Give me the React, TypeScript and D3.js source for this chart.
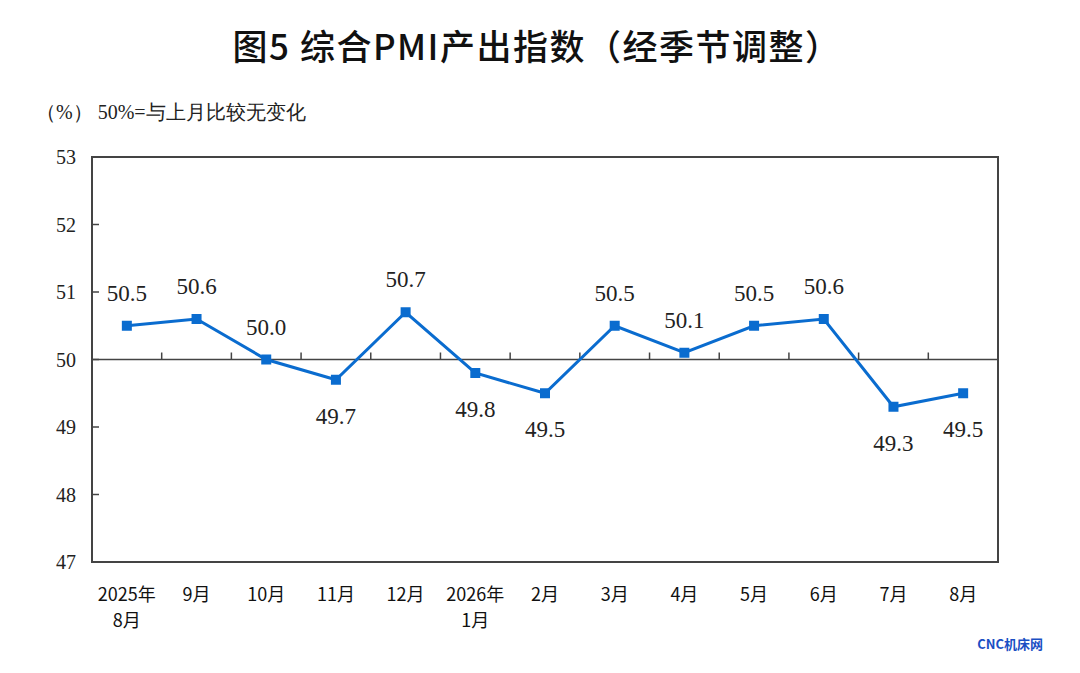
import * as d3 from "d3";

const categories = [["2025年", "8月"], ["9月"], ["10月"], ["11月"], ["12月"], ["2026年", "1月"], ["2月"], ["3月"], ["4月"], ["5月"], ["6月"], ["7月"], ["8月"]];
const values = [50.5, 50.6, 50.0, 49.7, 50.7, 49.8, 49.5, 50.5, 50.1, 50.5, 50.6, 49.3, 49.5];
const labelAbove = [true, true, true, false, true, false, false, true, true, true, true, false, false];
const yTicks = [47, 48, 49, 50, 51, 52, 53];

const W = 1080, H = 673;
const M = { left: 92, right: 998, top: 157, bottom: 562 };
const BLUE = "#0a6ccf";
const serif = "'Liberation Serif', 'Times New Roman', serif";
const cjk = "'Noto Sans CJK SC', sans-serif";

export default function App() {
  const x = d3.scaleBand<number>().domain(d3.range(values.length)).range([M.left, M.right]);
  const y = d3.scaleLinear().domain([47, 53]).range([M.bottom, M.top]);
  const cx = (i: number) => x(i)! + x.bandwidth() / 2;
  const line = d3.line<number>().x((_, i) => cx(i)).y((d) => y(d));
  const y50 = y(50);

  return (
    <svg width={W} height={H} style={{ position: "absolute", left: 0, top: 0, background: "#fff" }}>
      <text x={537} y={60} textAnchor="middle" fontFamily={cjk} fontWeight={500} fontSize={35} letterSpacing={1.5} fill="#111">
        图5 综合PMI产出指数（经季节调整）
      </text>
      <text x={36} y={119} fontFamily={serif} fontSize={20} fill="#222">（%） 50%=与上月比较无变化</text>
      <rect x={M.left} y={M.top} width={M.right - M.left} height={M.bottom - M.top} fill="none" stroke="#444" strokeWidth={2} />
      {yTicks.map((t) => (
        <g key={t}>
          <line x1={M.left} x2={M.left + 7} y1={y(t)} y2={y(t)} stroke="#444" strokeWidth={1.5} />
          <text x={66} y={y(t) + 7} textAnchor="middle" fontFamily={serif} fontSize={20} fill="#222">{t}</text>
        </g>
      ))}
      <line x1={M.left} x2={M.right} y1={y50} y2={y50} stroke="#444" strokeWidth={1.5} />
      {d3.range(1, values.length).map((i) => (
        <line key={i} x1={x(i)!} x2={x(i)!} y1={y50} y2={y50 - 7} stroke="#444" strokeWidth={1.5} />
      ))}
      <path d={line(values)!} fill="none" stroke={BLUE} strokeWidth={3} />
      {values.map((v, i) => (
        <g key={i}>
          <rect x={cx(i) - 5} y={y(v) - 5} width={10} height={10} fill={BLUE} />
          <text x={cx(i)} y={labelAbove[i] ? y(v) - 25 : y(v) + 44} textAnchor="middle" fontFamily={serif} fontSize={23} fill="#222">
            {v.toFixed(1)}
          </text>
        </g>
      ))}
      {categories.map((c, i) =>
        c.map((s, j) => (
          <text key={i + "-" + j} x={cx(i)} y={601 + j * 26} textAnchor="middle" fontFamily={cjk} fontSize={18} fill="#111">{s}</text>
        ))
      )}
      <text x={1043} y={649} textAnchor="end" fontFamily={cjk} fontWeight="bold" fontSize={13} fill="#1a4fc4">CNC机床网</text>
    </svg>
  );
}
